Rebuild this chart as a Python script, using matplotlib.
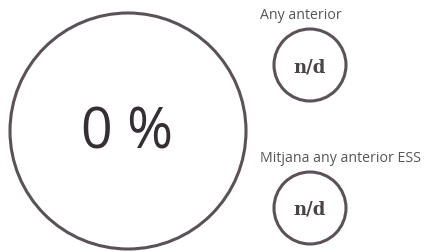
"""KPI gauge-style circles: main percentage plus two small indicators."""

import matplotlib.pyplot as plt
from matplotlib.patches import Circle

# ── data ────────────────────────────────────────────────────────────────
main_value = "0 %"
side_labels = ["Any anterior", "Mitjana any anterior ESS"]
side_values = ["n/d", "n/d"]

# ── figure in pixel coordinates ─────────────────────────────────────────
W, H = 427, 253
fig = plt.figure(figsize=(W / 100, H / 100), dpi=100)
ax = fig.add_axes([0, 0, 1, 1])
ax.set_xlim(0, W)
ax.set_ylim(H, 0)
ax.set_aspect("equal")
ax.axis("off")
fig.patch.set_facecolor("white")

ring = "#5b5159"

# big circle
ax.add_patch(Circle((128, 132), 118, facecolor="white", edgecolor=ring, linewidth=2.2))
ax.text(127, 134, main_value, ha="center", va="center",
        fontsize=40, family="Open Sans", color="#352f35")

# small circles
centers_y = [66, 209]
label_y = [15, 158]
for lab, val, cy, ly in zip(side_labels, side_values, centers_y, label_y):
    ax.text(260, ly, lab, ha="left", va="center",
            fontsize=10.2, family="Open Sans", color="#555555")
    ax.add_patch(Circle((310, cy), 36, facecolor="white", edgecolor=ring, linewidth=2.2))
    ax.text(310, cy + 1, val, ha="center", va="center",
            fontsize=13, family="DejaVu Serif", fontweight="bold", color="#4a4448")

fig.savefig("out.png", dpi=100, facecolor="white")
